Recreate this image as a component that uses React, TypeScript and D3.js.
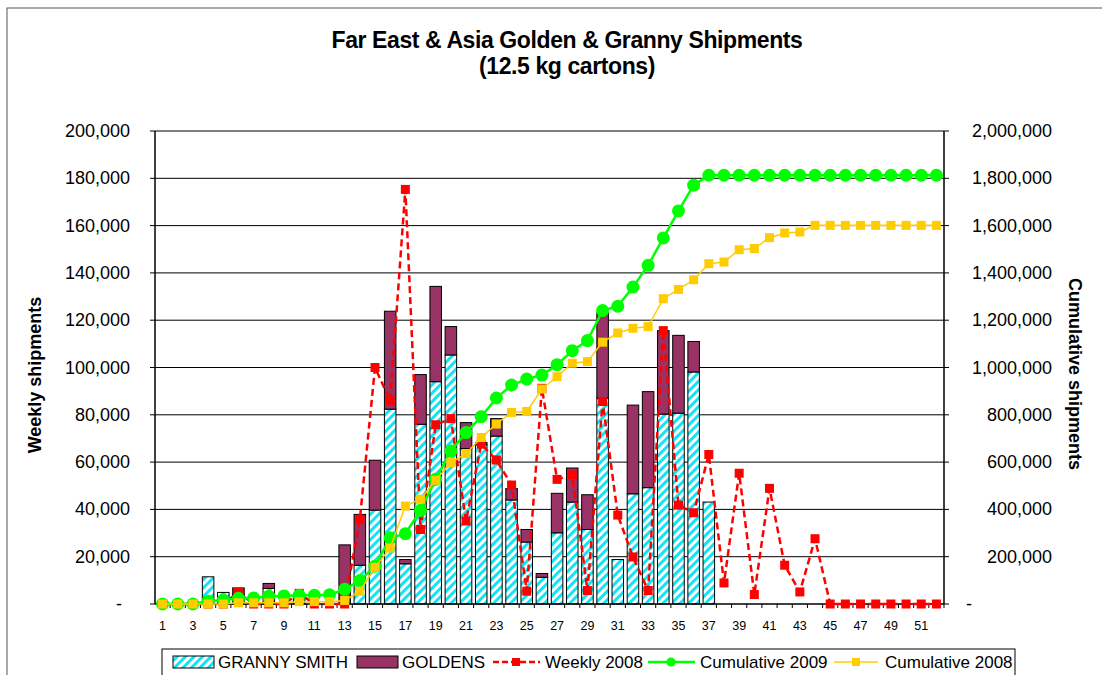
import React from 'react';
import * as d3 from 'd3';

// weeks 1..52
const weeks = d3.range(1, 53);

const granny = [
  0, 0, 0, 11500, 4900, 4000, 0, 6600, 0, 3000,
  0, 0, 0, 16400, 39700, 82400, 17000, 76000, 94000, 105300,
  65700, 67300, 71000, 44000, 26200, 11300, 30100, 43100, 31500, 87100,
  18800, 46600, 49200, 80300, 80700, 98100, 43100, 0, 0, 0,
  0, 0, 0, 0, 0, 0, 0, 0, 0, 0, 0, 0,
];

const goldens = [
  0, 0, 0, 0, 0, 2800, 0, 2100, 0, 0,
  0, 0, 25000, 21500, 21100, 41400, 1800, 21000, 40300, 12000,
  11000, 1000, 7400, 4800, 5300, 1600, 16700, 14400, 14700, 36000,
  0, 37500, 40600, 35300, 32900, 12900, 0, 0, 0, 0,
  0, 0, 0, 0, 0, 0, 0, 0, 0, 0, 0, 0,
];

const weekly2008 = [
  0, 0, 0, 0, 0, 5000, 0, 0, 0, 4500,
  0, 0, 0, 35800, 100000, 85900, 175300, 31500, 75800, 78400,
  35100, 67600, 60900, 50300, 5400, 91200, 52700, 54600, 5700, 85600,
  37600, 19900, 5700, 115600, 41800, 38600, 63200, 8900, 55300, 4000,
  48900, 16400, 5100, 27600, 0, 0, 0, 0, 0, 0, 0, 0,
];

const cumulative2009 = [
  0, 0, 0, 12000, 17000, 24000, 25000, 33000, 34000, 37000,
  37000, 39000, 62000, 99000, 160000, 280000, 297000, 396000, 527000, 647000,
  725000, 792000, 871000, 926000, 951000, 968000, 1012000, 1071000, 1114000, 1241000,
  1259000, 1340000, 1432000, 1548000, 1662000, 1771000, 1813000, 1813000, 1813000, 1813000,
  1813000, 1813000, 1813000, 1813000, 1813000, 1813000, 1813000, 1813000, 1813000, 1813000, 1813000, 1813000,
];

const cumulative2008 = [
  0, 0, 0, 0, 0, 5000, 5000, 5000, 5000, 10000,
  10000, 10000, 15000, 54000, 155000, 237000, 414000, 443000, 523000, 598000,
  636000, 704000, 761000, 810000, 814000, 909000, 961000, 1018000, 1025000, 1107000,
  1146000, 1166000, 1173000, 1291000, 1330000, 1371000, 1439000, 1446000, 1498000, 1503000,
  1549000, 1569000, 1573000, 1601000, 1601000, 1601000, 1601000, 1601000, 1601000, 1601000, 1601000, 1601000,
];

const leftTicks = d3.range(0, 200001, 20000);
const rightTicks = d3.range(0, 2000001, 200000);
const xLabels = weeks.filter(w => w % 2 === 1);

const FONT = 'Liberation Sans, Arial, sans-serif';

export default function App() {
  const plot = { left: 155, right: 944, top: 131, bottom: 604 };

  const x = d3.scaleBand<number>().domain(weeks).range([plot.left, plot.right]).paddingInner(0.24).paddingOuter(0.12);
  const step = (plot.right - plot.left) / weeks.length;
  const cx = (w: number) => plot.left + (w - 0.5) * step;
  const yL = d3.scaleLinear().domain([0, 200000]).range([plot.bottom, plot.top]);
  const yR = d3.scaleLinear().domain([0, 2000000]).range([plot.bottom, plot.top]);
  const fmt = d3.format(',');

  const lineL = d3.line<number>().x((_, i) => cx(weeks[i])).y(d => yL(d));
  const lineR = d3.line<number>().x((_, i) => cx(weeks[i])).y(d => yR(d));

  return (
    <div style={{ position: 'absolute', left: 0, top: 0 }}>
      <svg width={1102} height={675} style={{ display: 'block', fontFamily: FONT }}>
        <defs>
          <pattern id="hatch" patternUnits="userSpaceOnUse" width={6} height={6} patternTransform="rotate(45)">
            <rect width={6} height={6} fill="#fff" />
            <rect width={3} height={6} fill="#13e3f2" />
          </pattern>
        </defs>
        <rect x={0} y={0} width={1102} height={675} fill="#fff" />
        <rect x={7} y={8} width={1200} height={800} fill="none" stroke="#555" strokeWidth={1} />

        <text x={567} y={48} textAnchor="middle" fontSize={23} fontWeight="bold" letterSpacing={-0.4}>
          Far East &amp; Asia Golden &amp; Granny Shipments
        </text>
        <text x={567} y={74} textAnchor="middle" fontSize={23} fontWeight="bold" letterSpacing={-0.4}>
          (12.5 kg cartons)
        </text>

        {/* gridlines */}
        {leftTicks.slice(1).map(t => (
          <line key={t} x1={plot.left} x2={plot.right} y1={yL(t)} y2={yL(t)} stroke="#000" strokeWidth={1} />
        ))}

        {/* stacked bars */}
        {weeks.map((w, i) => {
          const g = granny[i];
          const o = goldens[i];
          if (g + o === 0) return null;
          return (
            <g key={w}>
              {g > 0 && (
                <rect x={x(w)} y={yL(g)} width={x.bandwidth()} height={yL(0) - yL(g)} fill="url(#hatch)" stroke="#000" strokeWidth={1} />
              )}
              {o > 0 && (
                <rect x={x(w)} y={yL(g + o)} width={x.bandwidth()} height={yL(g) - yL(g + o)} fill="#993366" stroke="#000" strokeWidth={1} />
              )}
            </g>
          );
        })}

        {/* axes */}
        <line x1={plot.left} x2={plot.left} y1={plot.top} y2={plot.bottom} stroke="#000" strokeWidth={1.5} />
        <line x1={plot.right} x2={plot.right} y1={plot.top} y2={plot.bottom} stroke="#000" strokeWidth={1.5} />
        <line x1={plot.left} x2={plot.right} y1={plot.bottom} y2={plot.bottom} stroke="#000" strokeWidth={1.5} />
        {leftTicks.map(t => (
          <g key={t}>
            <line x1={plot.left - 5} x2={plot.left} y1={yL(t)} y2={yL(t)} stroke="#000" />
            <text x={t === 0 ? 122 : 130} y={yL(t) + 6} textAnchor="end" fontSize={18}>
              {t === 0 ? '-' : fmt(t)}
            </text>
          </g>
        ))}
        {rightTicks.map(t => (
          <g key={t}>
            <line x1={plot.right} x2={plot.right + 5} y1={yR(t)} y2={yR(t)} stroke="#000" />
            <text x={t === 0 ? 966 : 1052} y={yR(t) + 6} textAnchor={t === 0 ? 'start' : 'end'} fontSize={18}>
              {t === 0 ? '-' : fmt(t)}
            </text>
          </g>
        ))}
        {weeks.map(w => (
          <line key={w} x1={plot.left + w * step} x2={plot.left + w * step} y1={plot.bottom} y2={plot.bottom + 4} stroke="#000" />
        ))}
        {xLabels.map(w => (
          <text key={w} x={cx(w)} y={630} textAnchor="middle" fontSize={12.5}>
            {w}
          </text>
        ))}

        <text transform="translate(41,375) rotate(-90)" textAnchor="middle" fontSize={18} fontWeight="bold">
          Weekly shipments
        </text>
        <text transform="translate(1069,374) rotate(90)" textAnchor="middle" fontSize={18} fontWeight="bold">
          Cumulative shipments
        </text>

        {/* Weekly 2008 */}
        <path d={lineL(weekly2008) || ''} fill="none" stroke="#ff0000" strokeWidth={2.5} strokeDasharray="7,4" />
        {weekly2008.map((v, i) => (
          <rect key={i} x={cx(weeks[i]) - 4.5} y={yL(v) - 4.5} width={9} height={9} fill="#ff0000" />
        ))}

        {/* Cumulative 2009 */}
        <path d={lineR(cumulative2009) || ''} fill="none" stroke="#00ff00" strokeWidth={2.5} />
        {cumulative2009.map((v, i) => (
          <circle key={i} cx={cx(weeks[i])} cy={yR(v)} r={6.5} fill="#00ff00" />
        ))}

        {/* Cumulative 2008 */}
        <path d={lineR(cumulative2008) || ''} fill="none" stroke="#ffcc00" strokeWidth={1.5} />
        {cumulative2008.map((v, i) => (
          <rect key={i} x={cx(weeks[i]) - 4.5} y={yR(v) - 4.5} width={9} height={9} fill="#ffcc00" />
        ))}

        {/* legend */}
        <rect x={162} y={649} width={853} height={32} fill="#fff" stroke="#000" strokeWidth={1} />
        <rect x={173} y={656} width={41} height={12} fill="url(#hatch)" stroke="#000" />
        <text x={218} y={668} fontSize={17}>GRANNY SMITH</text>
        <rect x={357} y={656} width={41} height={12} fill="#993366" stroke="#000" />
        <text x={402} y={668} fontSize={17}>GOLDENS</text>
        <line x1={493} x2={540} y1={662} y2={662} stroke="#ff0000" strokeWidth={2.5} strokeDasharray="6,3" />
        <rect x={512} y={658} width={8} height={8} fill="#ff0000" />
        <text x={545} y={668} fontSize={17}>Weekly 2008</text>
        <line x1={648} x2={695} y1={662} y2={662} stroke="#00ff00" strokeWidth={2.5} />
        <circle cx={671} cy={662} r={4.5} fill="#00ff00" />
        <text x={700} y={668} fontSize={17}>Cumulative 2009</text>
        <line x1={834} x2={878} y1={662} y2={662} stroke="#ffcc00" strokeWidth={1.5} />
        <rect x={852} y={658} width={8} height={8} fill="#ffcc00" />
        <text x={885} y={668} fontSize={17}>Cumulative 2008</text>
      </svg>
    </div>
  );
}
